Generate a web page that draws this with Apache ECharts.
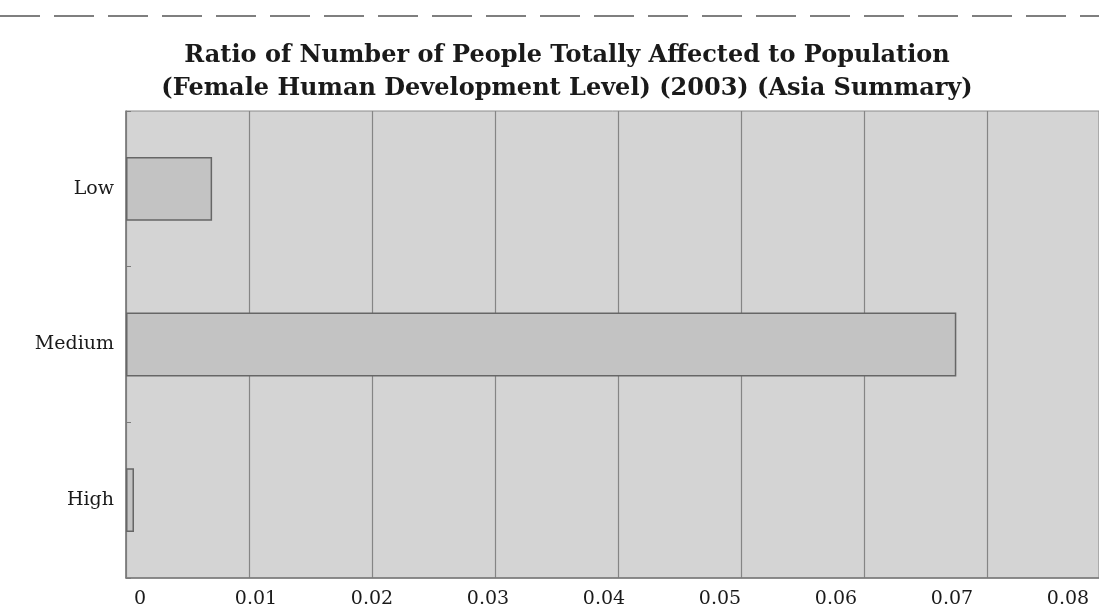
<!DOCTYPE html>
<html>
<head>
<meta charset="utf-8">
<style>
  html, body { margin: 0; padding: 0; background: #ffffff; }
  #chart { width: 1099px; height: 616px; }
</style>
<script src="https://cdn.jsdelivr.net/npm/echarts@6/dist/echarts.min.js"></script>
</head>
<body>
<div id="chart"></div>
<script>
const titleText = 'Ratio of Number of People Totally Affected to Population\n(Female Human Development Level) (2003) (Asia Summary)';
const categories = ['Low', 'Medium', 'High'];
const values = [0.0070, 0.0675, 0.00065];
const tickValues = [0, 0.01, 0.02, 0.03, 0.04, 0.05, 0.06, 0.07, 0.08];

const chart = echarts.init(document.getElementById('chart'), null, { renderer: 'canvas' });

const option = {
  backgroundColor: '#ffffff',
  animation: false,
  title: {
    text: titleText,
    left: 562,
    top: 34,
    textAlign: 'center',
    textStyle: {
      fontFamily: 'DejaVu Serif',
      fontWeight: 'bold',
      fontSize: 24,
      lineHeight: 33,
      color: '#1a1a1a'
    }
  },
  graphic: [{
    type: 'line',
    shape: { x1: 0, y1: 16, x2: 1099, y2: 16 },
    style: { stroke: '#555', lineWidth: 1.5, lineDash: [40, 14] },
    silent: true
  }],
  grid: {
    left: 126,
    right: 0,
    top: 111,
    bottom: 38,
    show: true,
    backgroundColor: '#d4d4d4',
    borderColor: '#8a8a8a',
    borderWidth: 1
  },
  xAxis: [{
    type: 'value',
    min: 0,
    max: 0.0791,
    interval: 0.01,
    position: 'bottom',
    axisLine: { show: true, lineStyle: { color: '#7a7a7a', width: 1.5 } },
    axisTick: { show: false },
    axisLabel: { show: false },
    splitLine: { show: true, lineStyle: { color: '#858585', width: 1.2 } }
  }, {
    type: 'value',
    min: -0.0012069,
    max: 0.0826724,
    position: 'bottom',
    axisLine: { show: false },
    axisTick: { show: false },
    splitLine: { show: false },
    axisLabel: {
      show: true,
      customValues: tickValues,
      margin: 12,
      fontFamily: 'DejaVu Serif',
      fontSize: 19,
      color: '#1a1a1a',
      formatter: function (v) { return String(Math.round(v * 100) / 100); }
    }
  }],
  yAxis: {
    type: 'category',
    data: categories,
    inverse: true,
    axisLine: { show: true, lineStyle: { color: '#7a7a7a', width: 1.5 } },
    axisTick: { show: true, inside: true, length: 5, lineStyle: { color: '#7a7a7a' } },
    axisLabel: {
      margin: 12,
      fontFamily: 'DejaVu Serif',
      fontSize: 19,
      color: '#1a1a1a'
    },
    splitLine: { show: false }
  },
  series: [{
    type: 'bar',
    xAxisIndex: 0,
    data: values,
    barWidth: '41%',
    itemStyle: {
      color: '#c3c3c3',
      borderColor: '#666666',
      borderWidth: 1.5
    }
  }]
};

chart.setOption(option);
</script>
</body>
</html>
